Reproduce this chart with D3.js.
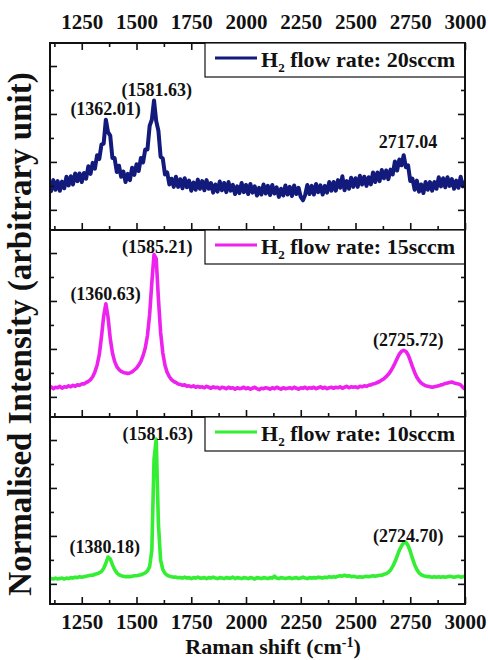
<!DOCTYPE html>
<html>
<head>
<meta charset="utf-8">
<script src="https://cdn.jsdelivr.net/npm/d3@7"></script>
<style>
  html, body { margin: 0; padding: 0; background: #fff; }
  svg { display: block; }
  text { font-family: "Liberation Serif", "Times New Roman", serif; font-weight: bold; fill: #111; }
</style>
</head>
<body>
<svg id="chart" width="488" height="660"></svg>
<script>
// ---------------- DATA ----------------
// Raman shift sampling grid (cm^-1)
const shift = d3.range(1100, 3001, 10);

// Normalised intensity, H2 flow rate 20 sccm (noisy)
const int20 = [
  0.58,0.39,0.62,0.42,0.60,0.40,0.59,0.45,0.69,0.51,
  0.70,0.53,0.76,0.60,0.76,0.58,0.77,0.65,0.91,0.75,
  0.98,0.86,1.14,1.06,1.36,1.38,1.88,1.62,1.55,1.08,
  1.08,0.79,0.92,0.69,0.80,0.58,0.75,0.62,0.88,0.73,
  0.95,0.81,1.08,0.99,1.26,1.26,1.75,1.88,2.28,1.85,
  1.65,1.11,1.07,0.74,0.78,0.53,0.65,0.48,0.69,0.48,
  0.64,0.45,0.66,0.47,0.61,0.40,0.57,0.42,0.63,0.44,
  0.60,0.41,0.62,0.44,0.56,0.36,0.53,0.38,0.59,0.41,
  0.56,0.37,0.58,0.40,0.52,0.33,0.49,0.35,0.56,0.37,
  0.52,0.33,0.54,0.36,0.49,0.30,0.46,0.32,0.53,0.34,
  0.50,0.31,0.52,0.34,0.47,0.27,0.44,0.30,0.51,0.32,
  0.48,0.29,0.51,0.33,0.46,0.27,0.20,0.31,0.52,0.33,
  0.50,0.32,0.54,0.37,0.51,0.32,0.50,0.36,0.58,0.40,
  0.58,0.40,0.62,0.46,0.70,0.41,0.60,0.44,0.67,0.48,
  0.66,0.48,0.71,0.53,0.69,0.50,0.68,0.53,0.78,0.58,
  0.78,0.60,0.83,0.66,0.82,0.64,0.84,0.74,1.01,0.82,
  1.05,0.93,1.14,0.89,0.93,0.60,0.65,0.42,0.61,0.38,
  0.53,0.35,0.58,0.42,0.58,0.40,0.58,0.44,0.68,0.49,
  0.66,0.47,0.68,0.50,0.64,0.44,0.61,0.46,0.69,0.49,
  0.60
];

// H2 flow rate 15 sccm
const int15 = [
  0.18,0.21,0.17,0.20,0.19,0.22,0.18,0.21,0.20,0.23,
  0.21,0.24,0.22,0.25,0.24,0.27,0.27,0.30,0.32,0.36,
  0.42,0.52,0.66,0.88,1.25,1.68,1.94,1.66,1.22,0.92,
  0.74,0.63,0.57,0.53,0.51,0.50,0.49,0.50,0.52,0.56,
  0.60,0.66,0.74,0.86,1.02,1.28,1.72,2.38,2.97,2.88,
  2.05,1.35,0.92,0.66,0.51,0.42,0.36,0.32,0.30,0.27,
  0.26,0.24,0.25,0.22,0.23,0.21,0.23,0.20,0.22,0.20,
  0.21,0.19,0.22,0.20,0.18,0.21,0.19,0.20,0.17,0.20,
  0.19,0.17,0.20,0.18,0.19,0.16,0.19,0.17,0.18,0.20,
  0.17,0.19,0.16,0.18,0.20,0.17,0.15,0.18,0.17,0.19,
  0.18,0.16,0.19,0.17,0.20,0.18,0.16,0.19,0.17,0.18,
  0.19,0.17,0.20,0.18,0.16,0.19,0.18,0.20,0.17,0.19,
  0.18,0.20,0.17,0.19,0.21,0.18,0.20,0.17,0.19,0.20,
  0.18,0.20,0.19,0.21,0.18,0.20,0.22,0.19,0.21,0.20,
  0.21,0.19,0.22,0.21,0.23,0.22,0.24,0.25,0.27,0.28,
  0.30,0.32,0.35,0.38,0.42,0.47,0.53,0.61,0.70,0.80,
  0.89,0.95,0.97,0.95,0.88,0.76,0.63,0.51,0.41,0.34,
  0.29,0.26,0.23,0.22,0.21,0.20,0.21,0.22,0.23,0.25,
  0.26,0.28,0.29,0.30,0.31,0.29,0.28,0.27,0.25,0.20,
  0.16
];

// H2 flow rate 10 sccm
const int10 = [
  0.09,0.11,0.10,0.12,0.10,0.11,0.12,0.10,0.12,0.11,
  0.13,0.12,0.14,0.13,0.15,0.14,0.15,0.16,0.17,0.18,
  0.18,0.20,0.21,0.23,0.26,0.32,0.43,0.56,0.52,0.40,
  0.30,0.23,0.19,0.17,0.16,0.15,0.15,0.15,0.16,0.17,
  0.17,0.18,0.19,0.21,0.23,0.27,0.36,0.70,2.60,3.02,
  1.25,0.50,0.30,0.22,0.18,0.16,0.15,0.14,0.14,0.13,
  0.13,0.12,0.14,0.12,0.13,0.11,0.13,0.12,0.14,0.12,
  0.12,0.13,0.11,0.13,0.12,0.14,0.12,0.11,0.13,0.12,
  0.11,0.13,0.12,0.12,0.14,0.11,0.13,0.12,0.11,0.13,
  0.12,0.11,0.13,0.12,0.10,0.13,0.12,0.11,0.13,0.12,
  0.11,0.13,0.12,0.16,0.12,0.11,0.13,0.12,0.11,0.12,
  0.13,0.11,0.12,0.13,0.11,0.12,0.14,0.12,0.11,0.13,
  0.12,0.13,0.12,0.14,0.13,0.12,0.14,0.13,0.15,0.14,
  0.15,0.14,0.16,0.17,0.16,0.18,0.16,0.17,0.15,0.16,
  0.15,0.14,0.15,0.14,0.15,0.16,0.15,0.16,0.17,0.16,
  0.17,0.18,0.18,0.20,0.21,0.24,0.29,0.36,0.46,0.58,
  0.70,0.79,0.86,0.87,0.80,0.68,0.53,0.40,0.30,0.23,
  0.19,0.17,0.16,0.15,0.15,0.14,0.15,0.14,0.15,0.14,
  0.15,0.14,0.15,0.16,0.15,0.14,0.15,0.16,0.14,0.15,
  0.16
];

const flowRates = ["20sccm", "15sccm", "10sccm"];
const seriesColors = ["#121a7c", "#ee22ee", "#33ee33"];

// Peak annotations: [label, shift, intensity]
const peaks20 = [["(1362.01)", 1359, 1.97], ["(1581.63)", 1593, 2.37], ["2717.04", 2740, 1.28]];
const peaks15 = [["(1360.63)", 1359, 2.02], ["(1585.21)", 1595, 3.0], ["(2725.72)", 2741, 1.06]];
const peaks10 = [["(1380.18)", 1355, 0.64], ["(1581.63)", 1597, 3.0], ["(2724.70)", 2741, 0.87]];

const xMajorTicks = [1250, 1500, 1750, 2000, 2250, 2500, 2750, 3000];
const xMinorTicks = [1125, 1375, 1625, 1875, 2125, 2375, 2625, 2875];
const yMajorTicks = [0, 1, 2, 3];
const yMinorTicks = [0.5, 1.5, 2.5];

// ---------------- LAYOUT ----------------
const L = 50, R = 465, T = 43, B = 604;
const panelH = (B - T) / 3;
const svg = d3.select("#chart");

const x = d3.scaleLinear().domain([1105, 3000]).range([L, R]);

const allSeries = [int20, int15, int10];
const allPeaks = [peaks20, peaks15, peaks10];
const strokeW = [4.0, 3.6, 3.6];

allSeries.forEach((vals, p) => {
  const top = T + p * panelH, bot = top + panelH;
  const y = d3.scaleLinear().domain([-0.42, 3.48]).range([bot, top]);
  const g = svg.append("g");

  const cid = "clip" + p;
  svg.append("clipPath").attr("id", cid).append("rect")
    .attr("x", L).attr("y", top).attr("width", R - L).attr("height", panelH);

  const data = shift.map((s, i) => [s, vals[i]]);
  g.append("path").datum(data)
    .attr("clip-path", `url(#${cid})`)
    .attr("fill", "none")
    .attr("stroke", seriesColors[p])
    .attr("stroke-width", strokeW[p])
    .attr("stroke-linejoin", "round")
    .attr("d", d3.line().x(d => x(d[0])).y(d => y(d[1])));

  const axB1 = g.append("g").attr("transform", `translate(0,${bot})`)
    .call(d3.axisBottom(x).tickValues(xMajorTicks).tickSizeInner(-7).tickSizeOuter(0).tickPadding(10)
      .tickFormat(p === 2 ? d3.format("d") : ""));
  const axB2 = g.append("g").attr("transform", `translate(0,${bot})`)
    .call(d3.axisBottom(x).tickValues(xMinorTicks).tickSizeInner(-4).tickSizeOuter(0).tickFormat(""));
  const axL1 = g.append("g").attr("transform", `translate(${L},0)`)
    .call(d3.axisLeft(y).tickValues(yMajorTicks).tickSizeInner(-7).tickSizeOuter(0).tickFormat(""));
  const axL2 = g.append("g").attr("transform", `translate(${L},0)`)
    .call(d3.axisLeft(y).tickValues(yMinorTicks).tickSizeInner(-4).tickSizeOuter(0).tickFormat(""));
  const axR1 = g.append("g").attr("transform", `translate(${R},0)`)
    .call(d3.axisRight(y).tickValues(yMajorTicks).tickSizeInner(-7).tickSizeOuter(0).tickFormat(""));
  const axR2 = g.append("g").attr("transform", `translate(${R},0)`)
    .call(d3.axisRight(y).tickValues(yMinorTicks).tickSizeInner(-4).tickSizeOuter(0).tickFormat(""));
  let axes = [axB1, axB2, axL1, axL2, axR1, axR2];
  if (p === 0) {
    const axT1 = g.append("g").attr("transform", `translate(0,${top})`)
      .call(d3.axisTop(x).tickValues(xMajorTicks).tickSizeInner(-7).tickSizeOuter(0).tickPadding(14)
        .tickFormat(d3.format("d")));
    const axT2 = g.append("g").attr("transform", `translate(0,${top})`)
      .call(d3.axisTop(x).tickValues(xMinorTicks).tickSizeInner(-4).tickSizeOuter(0).tickFormat(""));
    axes.push(axT1, axT2);
  }
  axes.forEach(a => {
    a.select(".domain").remove();
    a.selectAll(".tick line").attr("stroke", "#111").attr("stroke-width", 1.6);
    a.selectAll(".tick text").style("font-family", '"Liberation Serif", "Times New Roman", serif')
      .style("font-weight", "bold").style("font-size", "21px").attr("fill", "#111");
  });

  g.append("rect").attr("x", L).attr("y", top).attr("width", R - L).attr("height", panelH)
    .attr("fill", "none").attr("stroke", "#111").attr("stroke-width", 2);

  const lg = g.append("g");
  lg.append("rect").attr("x", 205).attr("y", top).attr("width", R - 205).attr("height", 34)
    .attr("fill", "#fff").attr("stroke", "#111").attr("stroke-width", 1.2);
  lg.append("line").attr("x1", 215).attr("x2", 257).attr("y1", top + 15).attr("y2", top + 15)
    .attr("stroke", seriesColors[p]).attr("stroke-width", 3);
  const lt = lg.append("text").attr("x", 261).attr("y", top + 24).style("font-size", "22px");
  lt.append("tspan").text("H");
  lt.append("tspan").text("2").style("font-size", "13px").attr("dy", 5);
  lt.append("tspan").text(" flow rate: " + flowRates[p]).attr("dy", -5);
  g.append("line").attr("x1", R).attr("x2", R).attr("y1", top).attr("y2", bot)
    .attr("stroke", "#111").attr("stroke-width", 2);

  g.selectAll(".pk").data(allPeaks[p]).enter().append("text")
    .attr("x", d => x(d[1])).attr("y", d => y(d[2]))
    .attr("text-anchor", "middle").style("font-size", "18px")
    .text(d => d[0]);
});

const xt = svg.append("text").attr("x", 273).attr("y", 654).attr("text-anchor", "middle")
  .style("font-size", "22px");
xt.append("tspan").text("Raman shift (cm");
xt.append("tspan").text("-1").style("font-size", "14px").attr("dy", -7);
xt.append("tspan").text(")").attr("dy", 7);

svg.append("text").attr("transform", "translate(31,334) rotate(-90)")
  .attr("text-anchor", "middle").style("font-size", "33px")
  .text("Normalised Intensity (arbitrary unit)");
</script>
</body>
</html>
